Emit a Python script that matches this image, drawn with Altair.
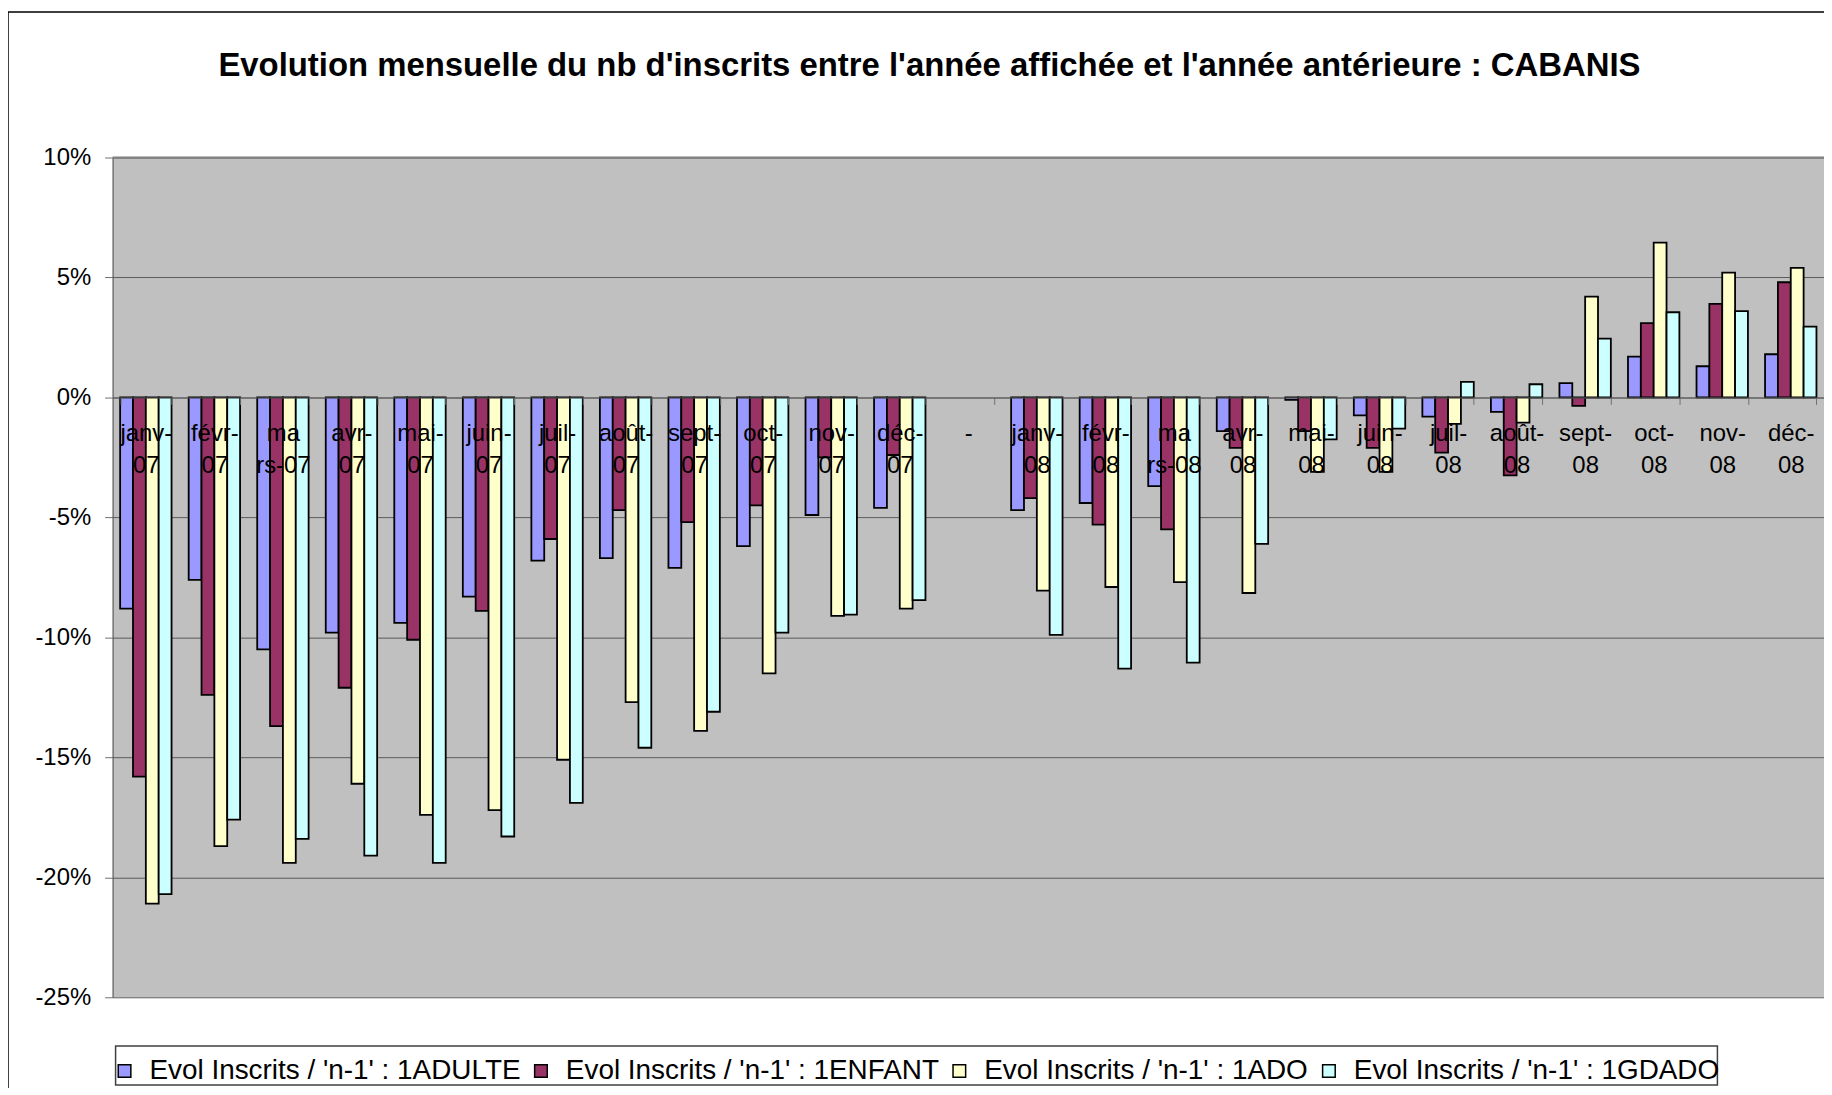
import altair as alt
import pandas as pd

# ---------------- data ----------------
categories = ["janv-|07", "févr-|07", "ma|rs-07", "avr-|07", "mai-|07", "juin-|07",
              "juil-|07", "août-|07", "sept-|07", "oct-|07", "nov-|07", "déc-|07",
              "-",
              "janv-|08", "févr-|08", "ma|rs-08", "avr-|08", "mai-|08", "juin-|08",
              "juil-|08", "août-|08", "sept-|08", "oct-|08", "nov-|08", "déc-|08"]

series_names = ["Evol Inscrits / 'n-1' : 1ADULTE",
                "Evol Inscrits / 'n-1' : 1ENFANT",
                "Evol Inscrits / 'n-1' : 1ADO",
                "Evol Inscrits / 'n-1' : 1GDADO"]

adulte = [-8.8, -7.6, -10.5, -9.8, -9.4, -8.3, -6.8, -6.7, -7.1, -6.2, -4.9, -4.6, None,
          -4.7, -4.4, -3.7, -1.4, -0.1, -0.75, -0.8, -0.6, 0.6, 1.7, 1.3, 1.8]
enfant = [-15.8, -12.4, -13.7, -12.1, -10.1, -8.9, -5.9, -4.7, -5.2, -4.5, -2.5, -2.4, None,
          -4.2, -5.3, -5.5, -2.1, -1.4, -2.1, -2.3, -3.25, -0.35, 3.1, 3.9, 4.8]
ado = [-21.1, -18.7, -19.4, -16.1, -17.4, -17.2, -15.1, -12.7, -13.9, -11.5, -9.1, -8.8, None,
       -8.05, -7.9, -7.7, -8.15, -3.1, -3.1, -1.1, -1.05, 4.2, 6.45, 5.2, 5.4]
gdado = [-20.7, -17.6, -18.4, -19.1, -19.4, -18.3, -16.9, -14.6, -13.1, -9.8, -9.05, -8.45, None,
         -9.9, -11.3, -11.05, -6.1, -1.75, -1.3, 0.65, 0.55, 2.45, 3.55, 3.6, 2.95]

colors = ["#9999FF", "#993366", "#FFFFCC", "#CCFFFF"]
y_ticks = [-25, -20, -15, -10, -5, 0, 5, 10]

title_text = "Evolution mensuelle du nb d'inscrits entre l'année affichée et l'année antérieure : CABANIS"

rows = []
for name, vals in zip(series_names, [adulte, enfant, ado, gdado]):
    for cat, v in zip(categories, vals):
        if v is not None:
            rows.append({"cat": cat, "serie": name, "val": v})
df = pd.DataFrame(rows)

FONT = "Liberation Sans"
W, H = 1718, 843
ZERO_FROM_BOTTOM = H * 25 / 35  # pixel distance of the 0% line above the plot bottom

one = pd.DataFrame({"a": [0]})

bars = alt.Chart(df).mark_bar(stroke="black", strokeWidth=1.8).encode(
    x=alt.X("cat:N", sort=categories,
            scale=alt.Scale(domain=categories, paddingInner=0.25, paddingOuter=0.11),
            axis=alt.Axis(title=None, orient="bottom", offset=-ZERO_FROM_BOTTOM,
                          labelExpr="split(datum.label, '|')",
                          labelAngle=0, labelFontSize=24, labelFont=FONT, labelColor="black",
                          labelLineHeight=32, labelPadding=17, labelOverlap=False, labelLimit=0,
                          tickBand="extent", tickSize=7, tickColor="#707070", tickWidth=1,
                          domainColor="#606060", domainWidth=1, zindex=1, grid=False)),
    xOffset=alt.XOffset("serie:N", sort=series_names,
                        scale=alt.Scale(domain=series_names, paddingInner=0, paddingOuter=0)),
    y=alt.Y("val:Q", scale=alt.Scale(domain=[-25, 10], nice=False, zero=False),
            axis=alt.Axis(title=None, values=y_ticks,
                          labelExpr="(datum.value < 0 ? '-' : '') + abs(datum.value) + '%'",
                          labelFontSize=24, labelFont=FONT, labelColor="black", labelPadding=14,
                          tickSize=8, tickColor="#707070", domainColor="#505050", domainWidth=1,
                          grid=True, gridColor="#5a5a5a", gridWidth=1, zindex=0)),
    color=alt.Color("serie:N", sort=series_names,
                    scale=alt.Scale(domain=series_names, range=colors),
                    legend=alt.Legend(title=None, orient="none", legendX=-2, legendY=903,
                                      direction="horizontal", columns=4,
                                      labelFontSize=28, labelFont=FONT, labelColor="black",
                                      labelLimit=0, labelOffset=11, columnPadding=6,
                                      symbolType="square", symbolSize=160,
                                      symbolStrokeColor="black", symbolStrokeWidth=1.5,
                                      symbolOpacity=1, padding=0)),
)

# outer chart frame
border = alt.Chart(one).mark_rect(
    fill="white", fillOpacity=0, stroke="black", strokeWidth=1.5
).encode(
    x=alt.value(-105), x2=alt.value(3000), y=alt.value(-146), y2=alt.value(3000)
)

# top edge of the plot area (grey frame)
plot_top = alt.Chart(one).mark_rule(color="#808080", strokeWidth=2).encode(
    x=alt.value(0), x2=alt.value(W), y=alt.value(0)
)

# legend frame
legend_box = alt.Chart(one).mark_rect(
    fill="white", stroke="#404040", strokeWidth=1.5
).encode(
    x=alt.value(3), x2=alt.value(1611), y=alt.value(892), y2=alt.value(931)
)

title = alt.Chart(one).mark_text(
    text=title_text, font=FONT, fontSize=33, fontWeight="bold", color="black",
    align="center", baseline="middle"
).encode(x=alt.value(820), y=alt.value(-92))

chart = alt.layer(border, legend_box, bars, plot_top, title).properties(
    width=W, height=H,
    autosize=alt.AutoSizeParams(type="none"),
    padding={"left": 105, "top": 148, "right": 0, "bottom": 89},
).configure(background="white").configure_view(
    fill="#C0C0C0", stroke=None
)

chart.save("out.html", embed_options={"renderer": "svg", "actions": False})
